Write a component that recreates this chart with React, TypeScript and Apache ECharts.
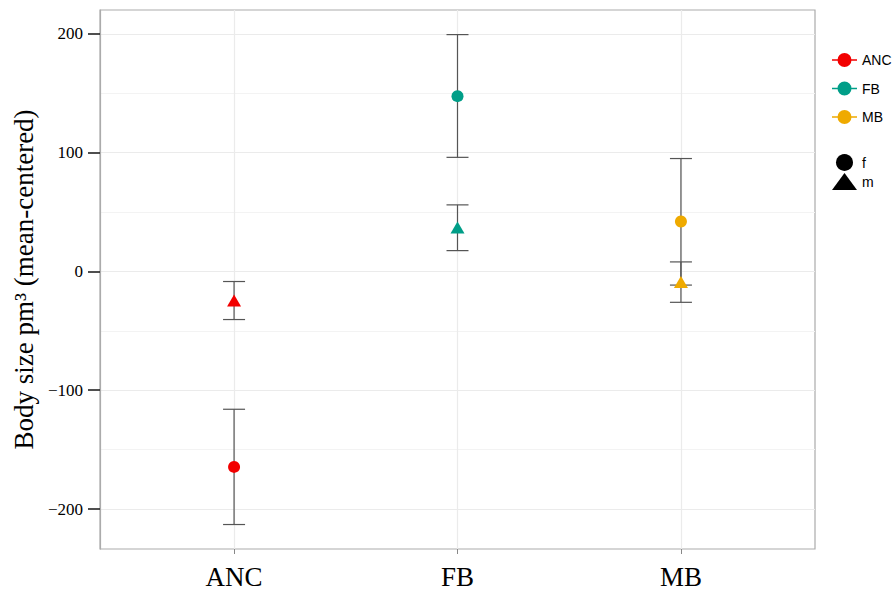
import React, { useEffect, useRef } from "react";
import * as echarts from "echarts";

const groups = ["ANC", "FB", "MB"];
const groupColors = ["#F20000", "#009E88", "#EFAA00"];
const sexes = ["f", "m"];
const femaleMean = [-164.5, 147.5, 42];
const femaleLow = [-213, 96, -11.5];
const femaleHigh = [-116, 199.3, 95];
const maleMean = [-24.5, 37, -9];
const maleLow = [-40.5, 17.5, -26];
const maleHigh = [-8.5, 56, 8];
const yTicks = [-200, -100, 0, 100, 200];
const yMinorGrid = [-150, -50, 50, 150];
const xPositions = [1, 2, 3];

const serif = "'Liberation Serif', 'Times New Roman', serif";
const sans = "'Liberation Sans', Arial, sans-serif";

const legendIcon =
  "path://M0,6.2 L25,6.2 L25,7.8 L0,7.8 Z M12.5,0 A7,7 0 1,1 12.5,14 A7,7 0 1,1 12.5,0 Z";

export default function App() {
  const ref = useRef<HTMLDivElement>(null);
  useEffect(() => {
    if (!ref.current) return;
    const chart = echarts.init(ref.current, undefined, { renderer: "svg" });

    const errData: number[][] = [];
    groups.forEach((_, i) => {
      errData.push([xPositions[i], femaleLow[i], femaleHigh[i]]);
      errData.push([xPositions[i], maleLow[i], maleHigh[i]]);
    });

    const groupSeries = groups.map((g, i) => ({
      name: g,
      type: "scatter",
      z: 5,
      itemStyle: { color: groupColors[i], opacity: 1 },
      symbol: (val: any[]) => (val[2] === "f" ? "circle" : "triangle"),
      symbolSize: (val: any[]) => (val[2] === "f" ? 12 : [14, 12]),
      data: [
        [xPositions[i], femaleMean[i], "f"],
        [xPositions[i], maleMean[i], "m"],
      ],
    }));

    const sexSeries = sexes.map((s) => ({
      name: s,
      type: "scatter",
      symbol: s === "f" ? "circle" : "triangle",
      itemStyle: { color: "#000", opacity: 1 },
      data: [],
    }));

    const option: any = {
      animation: false,
      grid: {
        left: 100,
        right: 81,
        top: 10,
        bottom: 43,
        show: true,
        borderColor: "#ABABAB",
        borderWidth: 1.2,
        backgroundColor: "#fff",
      },
      legend: [
        {
          data: groups.map((g) => ({ name: g, icon: legendIcon })),
          orient: "vertical",
          left: 832,
          top: 53,
          padding: 0,
          itemWidth: 25,
          itemHeight: 14,
          itemGap: 14.5,
          selectedMode: false,
          textStyle: { fontFamily: sans, fontSize: 14, color: "#000" },
        },
        {
          data: sexes,
          orient: "vertical",
          left: 832,
          top: 154,
          padding: 0,
          itemWidth: 25,
          itemHeight: 17,
          itemGap: 2,
          selectedMode: false,
          textStyle: { fontFamily: sans, fontSize: 14, color: "#000" },
        },
      ],
      xAxis: {
        type: "value",
        min: 0.4,
        max: 3.6,
        position: "bottom",
        splitLine: { show: false },
        axisLine: { show: false, onZero: false },
        axisTick: {
          show: true,
          customValues: xPositions,
          length: 5,
          lineStyle: { color: "#888", width: 1 },
        },
        axisLabel: {
          customValues: xPositions,
          formatter: (v: number) => groups[Math.round(v) - 1] ?? "",
          fontFamily: serif,
          fontSize: 27,
          color: "#000",
          margin: 14,
        },
      },
      yAxis: {
        type: "value",
        min: -233.6,
        max: 220,
        name: "Body size pm³ (mean-centered)",
        nameLocation: "middle",
        nameGap: 62,
        nameTextStyle: { fontFamily: serif, fontSize: 27, color: "#000" },
        splitLine: { show: false },
        axisLine: { show: true, onZero: false, lineStyle: { color: "#ABABAB", width: 1.2 } },
        axisTick: {
          show: true,
          customValues: yTicks,
          length: 12,
          lineStyle: { color: "#222", width: 1.6 },
        },
        axisLabel: {
          customValues: yTicks,
          formatter: (v: number) => String(v).replace("-", "\u2212"),
          fontFamily: serif,
          fontSize: 17,
          color: "#000",
          margin: 17,
        },
      },
      series: [
        {
          name: "grid",
          type: "line",
          data: [],
          z: 0,
          silent: true,
          markLine: {
            silent: true,
            z: 0,
            symbol: ["none", "none"],
            label: { show: false },
            animation: false,
            data: [
              ...yMinorGrid.map((v) => ({ yAxis: v, lineStyle: { color: "#F3F3F3", width: 1, type: "solid" } })),
              ...yTicks.map((v) => ({ yAxis: v, lineStyle: { color: "#EBEBEB", width: 1.2, type: "solid" } })),
              ...xPositions.map((v) => ({ xAxis: v, lineStyle: { color: "#EBEBEB", width: 1.2, type: "solid" } })),
            ],
          },
        },
        {
          name: "errorbars",
          type: "custom",
          z: 3,
          silent: true,
          encode: { x: 0, y: [1, 2] },
          data: errData,
          renderItem: (params: any, api: any) => {
            const x = api.value(0);
            const lo = api.coord([x, api.value(1)]);
            const hi = api.coord([x, api.value(2)]);
            const w = 11;
            const style = { stroke: "#555555", lineWidth: 1.2, opacity: 1 };
            return {
              type: "group",
              children: [
                { type: "line", shape: { x1: lo[0], y1: lo[1], x2: hi[0], y2: hi[1] }, style },
                { type: "line", shape: { x1: lo[0] - w, y1: lo[1], x2: lo[0] + w, y2: lo[1] }, style },
                { type: "line", shape: { x1: hi[0] - w, y1: hi[1], x2: hi[0] + w, y2: hi[1] }, style },
              ],
            };
          },
        },
        ...groupSeries,
        ...sexSeries,
      ],
    };
    chart.setOption(option);
    return () => chart.dispose();
  }, []);
  return (
    <div
      ref={ref}
      style={{ position: "fixed", left: 0, top: 0, width: 896, height: 592, background: "#fff" }}
    />
  );
}
